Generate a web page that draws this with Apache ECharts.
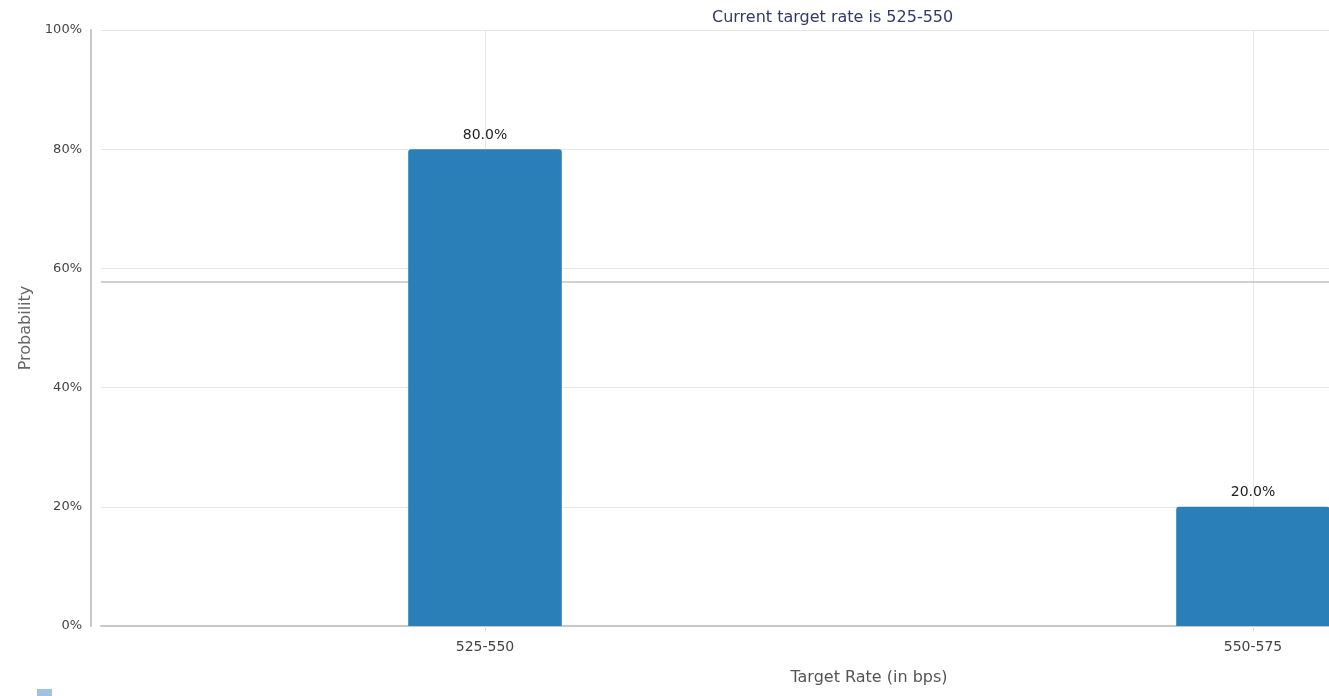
<!DOCTYPE html>
<html>
<head>
<meta charset="utf-8">
<script src="https://cdn.jsdelivr.net/npm/echarts@6/dist/echarts.min.js"></script>
<style>
html,body{margin:0;padding:0;background:#fff;overflow:hidden;width:1329px;height:696px;}
#chart{width:1660px;height:696px;}
</style>
</head>
<body>
<div id="chart"></div>
<script>
const categories = ['525-550', '550-575'];
const probabilities = [80.0, 20.0];
const yTicks = [0, 20, 40, 60, 80, 100];
const refLineValues = [57.7];
const titleText = 'Current target rate is 525-550';
const xAxisName = 'Target Rate (in bps)';
const yAxisName = 'Probability';

const chart = echarts.init(document.getElementById('chart'));
const font = '"DejaVu Sans", Verdana, sans-serif';
chart.setOption({
  animation: false,
  title: {
    text: titleText,
    left: 707,
    top: 5,
    textStyle: {color: '#2f3a6b', fontSize: 16, fontWeight: 'normal', fontFamily: font}
  },
  grid: {left: 101, right: 23, top: 30, bottom: 70, containLabel: false},
  xAxis: {
    type: 'category',
    data: categories,
    name: xAxisName,
    nameLocation: 'middle',
    nameGap: 44,
    nameTextStyle: {color: '#555', fontSize: 16, fontFamily: font},
    axisLine: {lineStyle: {color: '#c8c8c8', width: 2}},
    axisTick: {show: true, alignWithLabel: true, length: 5, lineStyle: {color: '#e0e0e0'}},
    axisLabel: {color: '#444', fontSize: 14, fontFamily: font, margin: 14},
    splitLine: {show: true, alignWithLabel: true, lineStyle: {color: '#e8e8e8'}}
  },
  yAxis: {
    type: 'value',
    min: yTicks[0],
    max: yTicks[yTicks.length - 1],
    interval: yTicks[1] - yTicks[0],
    offset: 10,
    name: yAxisName,
    nameLocation: 'middle',
    nameGap: 57,
    nameTextStyle: {color: '#666', fontSize: 16, fontFamily: font},
    axisLine: {show: true, lineStyle: {color: '#c8c8c8', width: 2}},
    axisTick: {show: false},
    axisLabel: {color: '#444', fontSize: 13, fontFamily: font, formatter: '{value}%', margin: 9},
    splitLine: {show: true, lineStyle: {color: '#e6e6e6'}}
  },
  series: [{
    type: 'bar',
    data: probabilities,
    barWidth: '20%',
    z: 3,
    itemStyle: {color: '#2a7fb8', borderRadius: [3, 3, 0, 0]},
    label: {
      show: true,
      position: 'top',
      distance: 7,
      formatter: p => p.value.toFixed(1) + '%',
      color: '#222',
      fontSize: 14,
      fontFamily: font
    }
  }, {
    type: 'line',
    data: [],
    z: 1,
    markLine: {
      silent: true,
      z: 1,
      symbol: 'none',
      label: {show: false},
      lineStyle: {color: '#c0c0c0', width: 1.5, type: 'solid'},
      data: refLineValues.map(v => ({yAxis: v}))
    }
  }],
  graphic: [{
    type: 'rect',
    left: 37,
    top: 689,
    shape: {width: 15, height: 7},
    style: {fill: '#9cc3e0'}
  }]
});
</script>
</body>
</html>
